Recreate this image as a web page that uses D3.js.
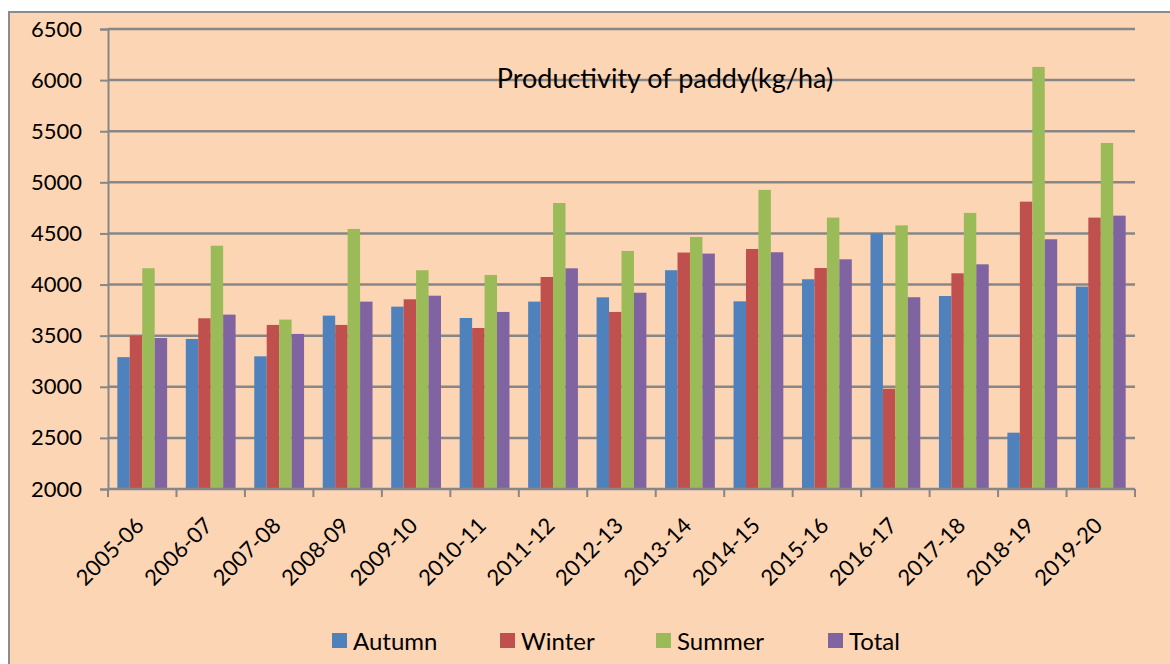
<!DOCTYPE html>
<html>
<head>
<meta charset="utf-8">
<script src="https://cdn.jsdelivr.net/npm/d3@7"></script>
<style>
  html, body { margin: 0; padding: 0; background: #ffffff; }
  svg { display: block; }
  text { font-family: Lato, "Open Sans", "Liberation Sans", sans-serif; fill: #000; }
</style>
</head>
<body>
<svg id="chart" width="1170" height="664"></svg>
<script>
const categories = ["2005-06","2006-07","2007-08","2008-09","2009-10","2010-11","2011-12","2012-13","2013-14","2014-15","2015-16","2016-17","2017-18","2018-19","2019-20"];
const seriesNames = ["Autumn","Winter","Summer","Total"];
const autumn = [3290,3468,3298,3696,3784,3673,3833,3875,4140,3836,4052,4502,3888,2551,3980];
const winter = [3500,3670,3605,3605,3856,3575,4074,3732,4313,4348,4162,2981,4110,4811,4655];
const summer = [4160,4380,3657,4544,4140,4094,4798,4329,4466,4926,4655,4579,4701,6129,5385];
const total  = [3477,3706,3517,3833,3891,3732,4159,3920,4303,4316,4247,3876,4198,4443,4674];
const yTicks = [2000,2500,3000,3500,4000,4500,5000,5500,6000,6500];
const colors = ["#4F81BD","#C0504D","#9BBB59","#8064A2"];
const title = "Productivity of paddy(kg/ha)";

(function () {
const seriesValues = [autumn, winter, summer, total];
const svg = d3.select("#chart");
const W = 1170, H = 664;

svg.append("rect").attr("x", 9).attr("y", 12).attr("width", W + 10).attr("height", H + 10)
  .attr("fill", "#FCD5B5").attr("stroke", "#8c8c8c").attr("stroke-width", 2);

const pL = 108, pR = 1135, pT = 29, pB = 489;

const x0 = d3.scaleBand().domain(categories).range([pL, pR]).paddingInner(0).paddingOuter(0);
const gapRatio = 1.5;
const half = x0.bandwidth() * gapRatio / (4 + gapRatio) / 2;
const x1 = d3.scaleBand().domain(seriesNames).range([half, x0.bandwidth() - half]);
const y = d3.scaleLinear().domain([2000, 6500]).range([pB, pT]);

svg.append("g").selectAll("line").data(yTicks.slice(1)).join("line")
  .attr("x1", pL).attr("x2", pR)
  .attr("y1", d => y(d)).attr("y2", d => y(d))
  .attr("stroke", "#878787").attr("stroke-width", 2.5);

svg.append("text").attr("x", 665).attr("y", 88).attr("text-anchor", "middle")
  .style("font-size", "27px").text(title);

const groups = svg.append("g").selectAll("g").data(categories).join("g")
  .attr("transform", d => `translate(${x0(d)},0)`);
groups.selectAll("rect").data((d, i) => seriesNames.map((s, j) => ({ s, j, v: seriesValues[j][i] })))
  .join("rect")
  .attr("x", d => x1(d.s)).attr("width", x1.bandwidth())
  .attr("y", d => y(d.v)).attr("height", d => y(2000) - y(d.v))
  .attr("fill", d => colors[d.j]);

const yAxis = d3.axisLeft(y).tickValues(yTicks).tickSize(8).tickPadding(18).tickFormat(d3.format("d"));
const gy = svg.append("g").attr("transform", `translate(${pL},0)`).call(yAxis);
gy.attr("font-family", null).attr("font-size", null);
gy.select(".domain").attr("stroke", "#878787").attr("stroke-width", 2);
gy.selectAll(".tick line").attr("stroke", "#878787").attr("stroke-width", 2);
gy.selectAll(".tick text").style("font-size", "22px").attr("fill", "#000");

const gx = svg.append("g").attr("transform", `translate(0,${pB})`);
gx.append("line").attr("x1", pL).attr("x2", pR).attr("stroke", "#878787").attr("stroke-width", 2.5);
const boundaries = categories.map(c => x0(c)).concat([pR]);
gx.selectAll("line.tk").data(boundaries).join("line").attr("class", "tk")
  .attr("x1", d => d).attr("x2", d => d).attr("y1", 0).attr("y2", 8)
  .attr("stroke", "#878787").attr("stroke-width", 2);
gx.selectAll("text").data(categories).join("text")
  .attr("text-anchor", "end")
  .attr("transform", d => `translate(${x0(d) + x0.bandwidth() / 2 + 3},${38}) rotate(-45)`)
  .style("font-size", "22px").text(d => d);

const legX = [332, 500, 656, 828];
const leg = svg.append("g").selectAll("g").data(seriesNames).join("g")
  .attr("transform", (d, i) => `translate(${legX[i]},633)`);
leg.append("rect").attr("width", 15).attr("height", 15).attr("fill", (d, i) => colors[i]);
leg.append("text").attr("x", 21).attr("y", 17).style("font-size", "24px").text(d => d);
})();
</script>
</body>
</html>
